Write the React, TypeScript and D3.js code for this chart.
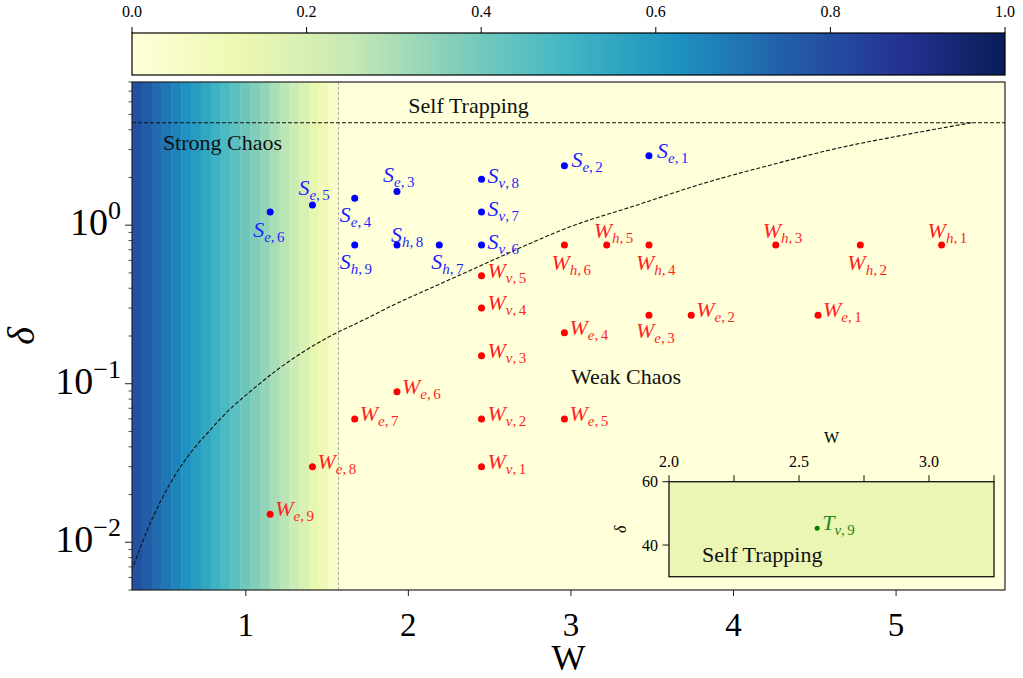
import React from "react";
import * as d3 from "d3";

// ---- data -------------------------------------------------------------
const W_TICKS = [1, 2, 3, 4, 5];
const DELTA_MAJOR = [1e-2, 1e-1, 1];
const DELTA_EXP = ["\u22122", "\u22121", "0"];
const CBAR_TICKS = [0, 0.2, 0.4, 0.6, 0.8, 1.0];
const INSET_W_TICKS = [2.0, 2.25, 2.5, 2.75, 3.0, 3.25];
const INSET_W_LABELS = [2.0, 2.5, 3.0];
const INSET_DELTA_TICKS = [40, 60];

// chaos indicator of the background strip (one value per W cell)
const STRIPE_W0 = 0.3;
const STRIPE_DW = 0.0605;
const stripeValues = [
  0.79, 0.755, 0.72, 0.69, 0.655, 0.62, 0.585, 0.55, 0.515, 0.48, 0.445,
  0.41, 0.375, 0.34, 0.305, 0.27, 0.23, 0.19, 0.145, 0.1, 0.05,
];
const chaosEdgeW = 1.57;

// boundary between strong and weak chaos
const boundaryW = [
  0.298, 0.411, 0.534, 0.657, 0.78, 0.903, 1.026, 1.19, 1.518, 1.723, 1.928,
  2.133, 2.338, 2.543, 2.748, 2.994, 3.404, 3.814, 4.224, 4.635, 5.044, 5.467,
];
const boundaryDelta = [
  0.00665, 0.0131, 0.0234, 0.0363, 0.0509, 0.0692, 0.0891, 0.1217, 0.1994,
  0.252, 0.321, 0.399, 0.496, 0.617, 0.767, 0.976, 1.337, 1.834, 2.39, 3.05,
  3.7, 4.43,
];
const selfTrapDelta = 4.43;

// strong-chaos states
const strongSubs = ["e,1", "e,2", "e,3", "e,4", "e,5", "e,6", "v,8", "v,7", "v,6", "h,7", "h,8", "h,9"];
const strongW = [3.48, 2.96, 1.93, 1.67, 1.41, 1.15, 2.45, 2.45, 2.45, 2.19, 1.93, 1.67];
const strongDelta = [2.74, 2.37, 1.63, 1.48, 1.34, 1.21, 1.95, 1.21, 0.75, 0.75, 0.75, 0.75];

// weak-chaos states
const weakSubs = [
  "h,1", "h,2", "h,3", "h,4", "h,5", "h,6",
  "e,1", "e,2", "e,3", "e,4", "e,5", "e,6", "e,7", "e,8", "e,9",
  "v,1", "v,2", "v,3", "v,4", "v,5",
];
const weakW = [
  5.28, 4.78, 4.26, 3.48, 3.22, 2.96,
  4.52, 3.74, 3.48, 2.96, 2.96, 1.93, 1.67, 1.41, 1.15,
  2.45, 2.45, 2.45, 2.45, 2.45,
];
const weakDelta = [
  0.75, 0.75, 0.75, 0.75, 0.75, 0.75,
  0.27, 0.27, 0.27, 0.21, 0.06, 0.089, 0.06, 0.03, 0.015,
  0.03, 0.06, 0.15, 0.3, 0.48,
];

// self-trapped state (inset)
const trapSubs = ["v,9"];
const trapW = [2.57];
const trapDelta = [45.3];

// region captions: [text, W, delta]
const regionNotes: [string, number, number][] = [
  ["Self Trapping", 2.0, 5.1],
  ["Strong Chaos", 0.49, 3.0],
  ["Weak Chaos", 3.0, 0.1],
];
const insetNote: [string, number, number] = ["Self Trapping", 2.127, 34.6];

// ---- layout -----------------------------------------------------------
const WIDTH = 1023;
const HEIGHT = 678;
const PLOT = { left: 132, right: 1005, top: 82, bottom: 590 };
const CBAR = { top: 33, bottom: 75 };
const INSET = { left: 669, right: 994, top: 481.7, bottom: 576.7 };
const SERIF = "'Liberation Serif', 'Times New Roman', serif";

// label placement relative to the marker: [dx, dy]
const RIGHT: [number, number] = [5, 2];
const BELOW: [number, number] = [-15, 24];
const ABOVE: [number, number] = [-14, -10];
const labelOffsets: Record<string, [number, number]> = {
  "S_e,6": [-17, 25],
  "S_e,5": ABOVE,
  "S_e,4": BELOW,
  "S_e,3": ABOVE,
  "S_h,9": BELOW,
  "S_h,8": [-6, -3],
  "S_h,7": [-8, 24],
  "S_e,2": [7, 1],
  "S_e,1": [8, 2],
  "S_v,8": [6, 4],
  "S_v,7": [6, 4],
  "S_v,6": [6, 4],
  "W_h,6": [-13, 25],
  "W_h,5": [-13, -7],
  "W_h,4": [-13, 25],
  "W_h,3": [-13, -7],
  "W_h,2": [-13, 25],
  "W_h,1": [-14, -7],
  "W_e,3": [-13, 23],
  "W_v,1": [6, 2],
  "W_v,2": [6, 2],
  "W_v,3": [6, 2],
  "W_v,4": [6, 2],
  "W_v,5": [6, 2],
};

const YLGNBU = [
  "#ffffd9", "#edf8b1", "#c7e9b4", "#7fcdbb", "#41b6c4",
  "#1d91c0", "#225ea8", "#253494", "#081d58",
];
const cmap = d3
  .scaleLinear<string>()
  .domain(d3.range(9).map((i) => i / 8))
  .range(YLGNBU)
  .interpolate(d3.interpolateRgb)
  .clamp(true);

type Pt = { letter: string; sub: string; W: number; d: number };

function StateLabel({ p, x, y, color }: { p: Pt; x: number; y: number; color: string }) {
  const key = `${p.letter}_${p.sub}`;
  const [dx, dy] = labelOffsets[key] ?? RIGHT;
  const [s, n] = p.sub.split(",");
  return (
    <text x={x + dx} y={y + dy} fill={color} fontFamily={SERIF} fontSize={22}>
      <tspan fontStyle="italic">{p.letter}</tspan>
      <tspan fontStyle="italic" fontSize={15} dy={5}>{s}</tspan>
      <tspan fontSize={15}>,</tspan>
      <tspan fontSize={15} dx={2.5}>{n}</tspan>
    </text>
  );
}

export default function App() {
  const x = d3.scaleLinear().domain([0.3, 5.67]).range([PLOT.left, PLOT.right]);
  const y = d3.scaleLog().domain([0.005, 8]).range([PLOT.bottom, PLOT.top]);
  const cx = d3.scaleLinear().domain([0, 1]).range([PLOT.left, PLOT.right]);
  const ix = d3.scaleLinear().domain([2.0, 3.25]).range([INSET.left, INSET.right]);
  const iy = d3.scaleLinear().domain([30, 60]).range([INSET.bottom, INSET.top]);

  const minor: number[] = [];
  for (let e = -3; e <= 0; e++)
    for (let m = 2; m <= 9; m++) {
      const v = m * Math.pow(10, e);
      if (v >= 0.005 && v <= 8) minor.push(v);
    }

  const boundary = d3
    .line<number>()
    .x((i) => x(boundaryW[i]))
    .y((i) => y(boundaryDelta[i]))
    .curve(d3.curveMonotoneX)(d3.range(boundaryW.length));

  const strong: Pt[] = strongSubs.map((s, i) => ({ letter: "S", sub: s, W: strongW[i], d: strongDelta[i] }));
  const weak: Pt[] = weakSubs.map((s, i) => ({ letter: "W", sub: s, W: weakW[i], d: weakDelta[i] }));
  const trap: Pt[] = trapSubs.map((s, i) => ({ letter: "T", sub: s, W: trapW[i], d: trapDelta[i] }));

  const plotW = PLOT.right - PLOT.left;
  const plotH = PLOT.bottom - PLOT.top;

  return (
    <svg
      width={WIDTH}
      height={HEIGHT}
      style={{ position: "absolute", left: 0, top: 0, background: "#fff" }}
      fontFamily={SERIF}
    >
      <defs>
        <linearGradient id="cbar" x1="0" x2="1" y1="0" y2="0">
          {YLGNBU.map((c, i) => (
            <stop key={i} offset={i / 8} stopColor={c} />
          ))}
        </linearGradient>
        <clipPath id="plotClip">
          <rect x={PLOT.left} y={PLOT.top} width={plotW} height={plotH} />
        </clipPath>
      </defs>

      {/* colour bar */}
      <rect x={PLOT.left} y={CBAR.top} width={plotW} height={CBAR.bottom - CBAR.top} fill="url(#cbar)" stroke="#000" strokeWidth={1.2} />
      {CBAR_TICKS.map((t) => (
        <g key={t}>
          <line x1={cx(t)} x2={cx(t)} y1={CBAR.top} y2={CBAR.top - 6} stroke="#000" strokeWidth={1} />
          <text x={cx(t)} y={17} textAnchor="middle" fontSize={16}>
            {t.toFixed(1)}
          </text>
        </g>
      ))}

      {/* background: chaos indicator strips */}
      <g clipPath="url(#plotClip)">
        <rect x={PLOT.left} y={PLOT.top} width={plotW} height={plotH} fill={cmap(0)} />
        {stripeValues.map((v, i) => {
          const w0 = STRIPE_W0 + i * STRIPE_DW;
          const w1 = Math.min(w0 + STRIPE_DW, chaosEdgeW);
          return (
            <rect
              key={i}
              x={x(w0)}
              y={PLOT.top}
              width={x(w1) - x(w0) + 0.4}
              height={plotH}
              fill={cmap(v)}
            />
          );
        })}
        <line
          x1={x(chaosEdgeW)}
          x2={x(chaosEdgeW)}
          y1={PLOT.top}
          y2={PLOT.bottom}
          stroke="#999"
          strokeWidth={0.8}
          strokeDasharray="3,2"
        />
        <line
          x1={PLOT.left}
          x2={PLOT.right}
          y1={y(selfTrapDelta)}
          y2={y(selfTrapDelta)}
          stroke="#111"
          strokeWidth={1.1}
          strokeDasharray="4,2"
        />
        <path d={boundary ?? ""} fill="none" stroke="#111" strokeWidth={1.1} strokeDasharray="4,2" />

        {regionNotes.map(([t, w, d]) => (
          <text key={t} x={x(w)} y={y(d)} fontSize={22} fill="#111">
            {t}
          </text>
        ))}

        {strong.map((p) => (
          <g key={"s" + p.sub}>
            <circle cx={x(p.W)} cy={y(p.d)} r={3.5} fill="#0000ff" />
            <StateLabel p={p} x={x(p.W)} y={y(p.d)} color="#1f1fff" />
          </g>
        ))}
        {weak.map((p) => (
          <g key={"w" + p.sub}>
            <circle cx={x(p.W)} cy={y(p.d)} r={3.5} fill="#ff0000" />
            <StateLabel p={p} x={x(p.W)} y={y(p.d)} color="#ff1f1f" />
          </g>
        ))}
      </g>

      {/* main frame */}
      <rect x={PLOT.left} y={PLOT.top} width={plotW} height={plotH} fill="none" stroke="#222" strokeWidth={1.2} />

      {/* x axis */}
      {W_TICKS.map((t) => (
        <g key={t}>
          <line x1={x(t)} x2={x(t)} y1={PLOT.bottom} y2={PLOT.bottom + 6} stroke="#222" strokeWidth={1} />
          <text x={x(t)} y={636} textAnchor="middle" fontSize={33}>
            {t}
          </text>
        </g>
      ))}
      <text x={(PLOT.left + PLOT.right) / 2} y={670} textAnchor="middle" fontSize={36}>
        W
      </text>

      {/* y axis */}
      {minor.map((v) => (
        <line key={v} x1={PLOT.left} x2={PLOT.left - 3.5} y1={y(v)} y2={y(v)} stroke="#222" strokeWidth={0.8} />
      ))}
      {DELTA_MAJOR.map((v, i) => (
        <g key={v}>
          <line x1={PLOT.left} x2={PLOT.left - 7} y1={y(v)} y2={y(v)} stroke="#222" strokeWidth={1} />
          <text x={121} y={y(v) + 10} textAnchor="end" fontSize={38}>
            10
            <tspan dy={-16} fontSize={26}>
              {DELTA_EXP[i]}
            </tspan>
          </text>
        </g>
      ))}
      <text
        transform={`translate(34, ${(PLOT.top + PLOT.bottom) / 2}) rotate(-90)`}
        textAnchor="middle"
        fontSize={38}
        fontStyle="italic"
      >
        δ
      </text>

      {/* inset: self trapping */}
      <rect
        x={INSET.left}
        y={INSET.top}
        width={INSET.right - INSET.left}
        height={INSET.bottom - INSET.top}
        fill="#ebf5b4"
        stroke="#111"
        strokeWidth={1.3}
      />
      {INSET_W_TICKS.map((t) => (
        <line key={t} x1={ix(t)} x2={ix(t)} y1={INSET.top} y2={INSET.top - 6.5} stroke="#111" strokeWidth={1} />
      ))}
      {INSET_W_LABELS.map((t) => (
        <text key={t} x={ix(t)} y={467} textAnchor="middle" fontSize={16}>
          {t.toFixed(1)}
        </text>
      ))}
      <text x={(INSET.left + INSET.right) / 2} y={443} textAnchor="middle" fontSize={16}>
        W
      </text>
      {INSET_DELTA_TICKS.map((t) => (
        <g key={t}>
          <line x1={INSET.left} x2={INSET.left - 6.5} y1={iy(t)} y2={iy(t)} stroke="#111" strokeWidth={1} />
          <text x={658} y={iy(t) + 5.5} textAnchor="end" fontSize={16}>
            {t}
          </text>
        </g>
      ))}
      <text
        transform={`translate(626, ${(INSET.top + INSET.bottom) / 2}) rotate(-90)`}
        textAnchor="middle"
        fontSize={16}
        fontStyle="italic"
      >
        δ
      </text>
      <text x={ix(insetNote[1])} y={iy(insetNote[2])} fontSize={22} fill="#111">
        {insetNote[0]}
      </text>
      {trap.map((p) => (
        <g key={"t" + p.sub}>
          <circle cx={ix(p.W)} cy={iy(p.d)} r={2.5} fill="#008000" />
          <StateLabel p={p} x={ix(p.W)} y={iy(p.d)} color="#1a8c1a" />
        </g>
      ))}
    </svg>
  );
}
